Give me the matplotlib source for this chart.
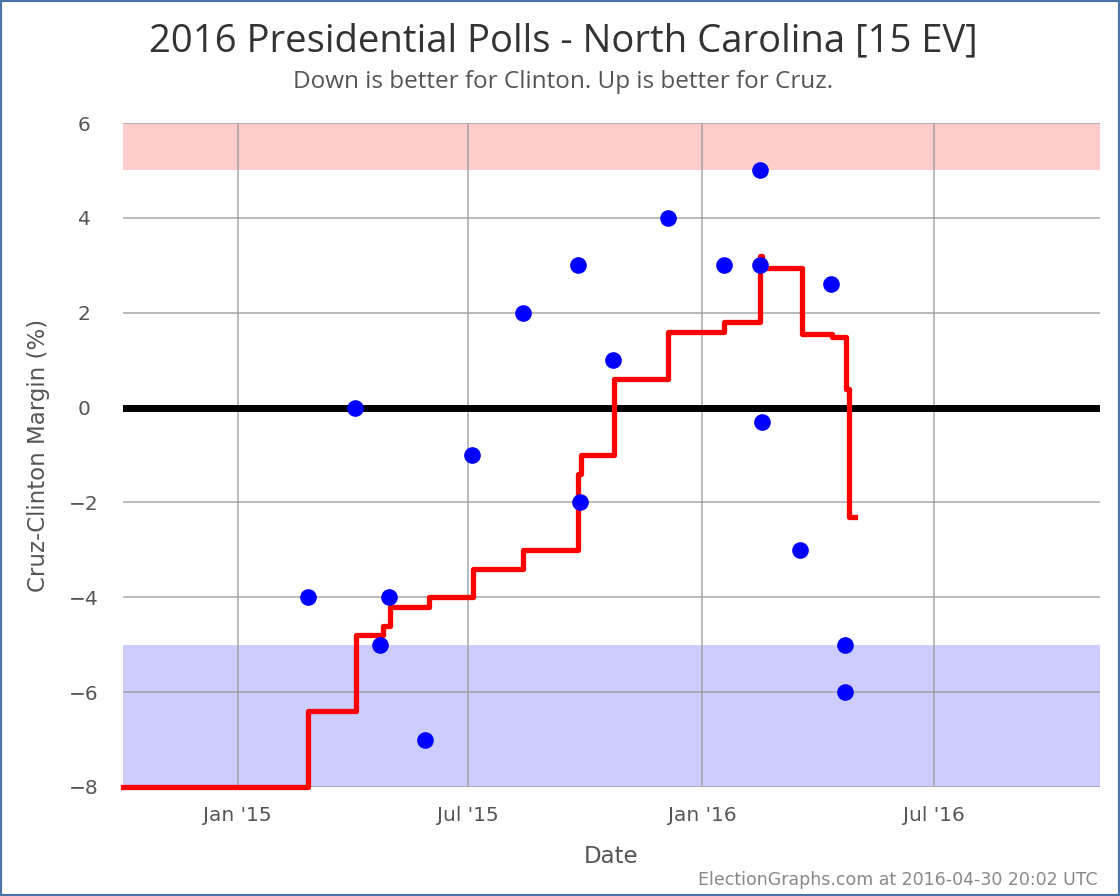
import matplotlib
matplotlib.use("Agg")
import matplotlib.pyplot as plt
from matplotlib.patches import Rectangle
import pandas as pd

# Poll results (Cruz - Clinton margin, %)
poll_dates = ["2015-02-25", "2015-04-03", "2015-04-23", "2015-04-30", "2015-05-28",
              "2015-07-04", "2015-08-13", "2015-09-25", "2015-09-27", "2015-10-23",
              "2015-12-05", "2016-01-18", "2016-02-15", "2016-02-15", "2016-02-17",
              "2016-03-18", "2016-04-11", "2016-04-22", "2016-04-22"]
poll_margins = [-4, 0, -5, -4, -7,
                -1, 2, 3, -2, 1,
                4, 3, 5, 3, -0.3,
                -3, 2.6, -5, -6]

# Running average (step line)
avg_dates = ["2014-10-03", "2015-02-25", "2015-04-04", "2015-04-25", "2015-05-01",
             "2015-05-31", "2015-07-05", "2015-08-13", "2015-09-25", "2015-09-28",
             "2015-10-24", "2015-12-05", "2016-01-18", "2016-02-15", "2016-02-17",
             "2016-03-19", "2016-04-12", "2016-04-23", "2016-04-25", "2016-04-30"]
avg_margins = [-8, -6.4, -4.8, -4.6, -4.2,
               -4.0, -3.4, -3.0, -1.4, -1.0,
               0.6, 1.6, 1.8, 3.2, 2.95,
               1.55, 1.48, 0.4, -2.3, -2.3]

x_start = pd.Timestamp("2014-10-03")
x_end = pd.Timestamp("2016-11-08")
tick_dates = ["2015-01-01", "2015-07-01", "2016-01-01", "2016-07-01"]
tick_labels = ["Jan '15", "Jul '15", "Jan '16", "Jul '16"]

fig = plt.figure(figsize=(11.2, 8.96), dpi=100)
ax = fig.add_axes([0.1098, 0.1217, 0.872, 0.741])

ax.axhspan(5, 6, color="#ffcccc", zorder=0, lw=0)
ax.axhspan(-8, -5, color="#ccccff", zorder=0, lw=0)

ax.set_xlim(x_start, x_end)
ax.set_ylim(-8, 6)
ax.set_yticks(range(-8, 7, 2))
ax.set_xticks(pd.to_datetime(tick_dates))
ax.set_xticklabels(tick_labels)
ax.grid(True, color="#999999", lw=1.2, alpha=0.8, zorder=1)

ax.axhline(0, color="black", lw=5, zorder=2)

ax.step(pd.to_datetime(avg_dates), avg_margins, where="post",
        color="#ff0000", lw=3.8, zorder=3, clip_on=False)
ax.plot(pd.to_datetime(poll_dates), poll_margins, "o", color="#0000ff",
        markersize=12, markeredgewidth=0, zorder=4)

for s in ax.spines.values():
    s.set_visible(False)
ax.tick_params(length=0, labelsize=14.5, colors="#555555", pad=14)
for lab in ax.get_yticklabels():
    lab.set_horizontalalignment("center")
ax.tick_params(axis="y", pad=28)

ax.set_xlabel("Date", fontsize=16.5, color="#555555", labelpad=14)
ax.set_ylabel("Cruz-Clinton Margin (%)", fontsize=16.5, color="#555555", labelpad=14)

fig.text(0.503, 0.954, "2016 Presidential Polls - North Carolina [15 EV]",
         ha="center", va="center", fontsize=27.5, color="#333333", family="Open Sans")
fig.text(0.503, 0.909, "Down is better for Clinton. Up is better for Cruz.",
         ha="center", va="center", fontsize=17.5, color="#555555", family="Open Sans")
fig.text(0.98, 0.018, "ElectionGraphs.com at 2016-04-30 20:02 UTC",
         ha="right", va="center", fontsize=12.5, color="#888888")

fig.add_artist(Rectangle((0, 0), 1, 1, transform=fig.transFigure, fill=False,
                         edgecolor="#4a74a8", lw=3))

fig.savefig("out.png", dpi=100)
